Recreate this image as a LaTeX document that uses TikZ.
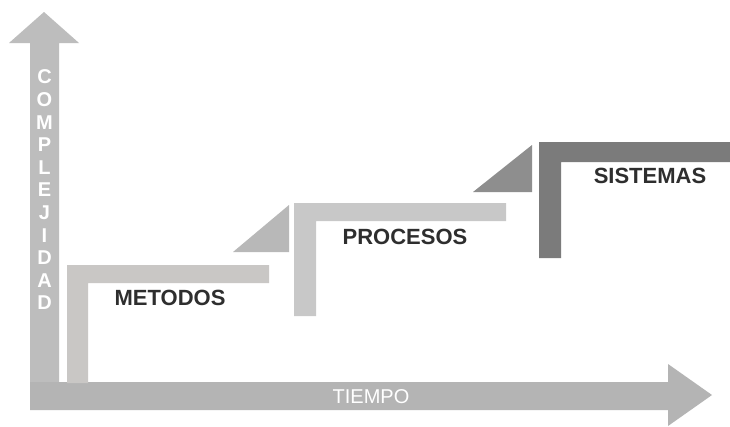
\documentclass[tikz,border=0pt]{standalone}
\usepackage{fontspec}
\setmainfont{Liberation Sans}
\definecolor{axisV}{HTML}{BDBDBD}
\definecolor{axisH}{HTML}{B4B4B4}
\definecolor{metC}{HTML}{C9C7C5}
\definecolor{proC}{HTML}{C8C8C8}
\definecolor{triA}{HTML}{B8B8B8}
\definecolor{triB}{HTML}{8E8E8E}
\definecolor{sisC}{HTML}{7B7B7B}
\definecolor{txt}{HTML}{2E2E2E}
\begin{document}
\begin{tikzpicture}[x=1pt,y=-1pt,
  label/.style={text=txt,font=\fontsize{22}{25}\selectfont\bfseries,inner sep=0pt},
  axlet/.style={text=white,font=\fontsize{20}{23}\selectfont\bfseries,inner sep=0pt}]
\useasboundingbox[fill=white] (0,0) rectangle (730,426);
% vertical axis arrow
\fill[axisV] (30,383) -- (30,43) -- (9,43) -- (44,12) -- (79,43) -- (59,43) -- (59,383) -- cycle;
% horizontal axis arrow
\fill[axisH] (30,382) -- (668,382) -- (668,364) -- (712,395) -- (668,426) -- (668,410) -- (30,410) -- cycle;
% METODOS bracket
\fill[metC] (67,383) -- (67,265) -- (269,265) -- (269,283) -- (88,283) -- (88,383) -- cycle;
% triangle 1
\fill[triA] (233,252) -- (289,205) -- (289,252) -- cycle;
% PROCESOS bracket
\fill[proC] (294,316) -- (294,203) -- (506,203) -- (506,221) -- (316,221) -- (316,316) -- cycle;
% triangle 2
\fill[triB] (473,192) -- (532,145) -- (532,192) -- cycle;
% SISTEMAS bracket
\fill[sisC] (539,258) -- (539,142) -- (730,142) -- (730,162) -- (561,162) -- (561,258) -- cycle;
% labels
\node[label] (met) at (170,298) {METODOS};
\node[label] (pro) at (405,237) {PROCESOS};
\node[label] (sis) at (650,176) {SISTEMAS};
\node[text=white,font=\fontsize{20}{23}\selectfont,inner sep=0pt] (tie) at (371,397) {TIEMPO};
\foreach \l [count=\i from 0] in {C,O,M,P,L,E,J,I,D,A,D}
  \node[axlet] (c\i) at (44.5,{77+22.6*\i}) {\l};
\end{tikzpicture}
\end{document}
